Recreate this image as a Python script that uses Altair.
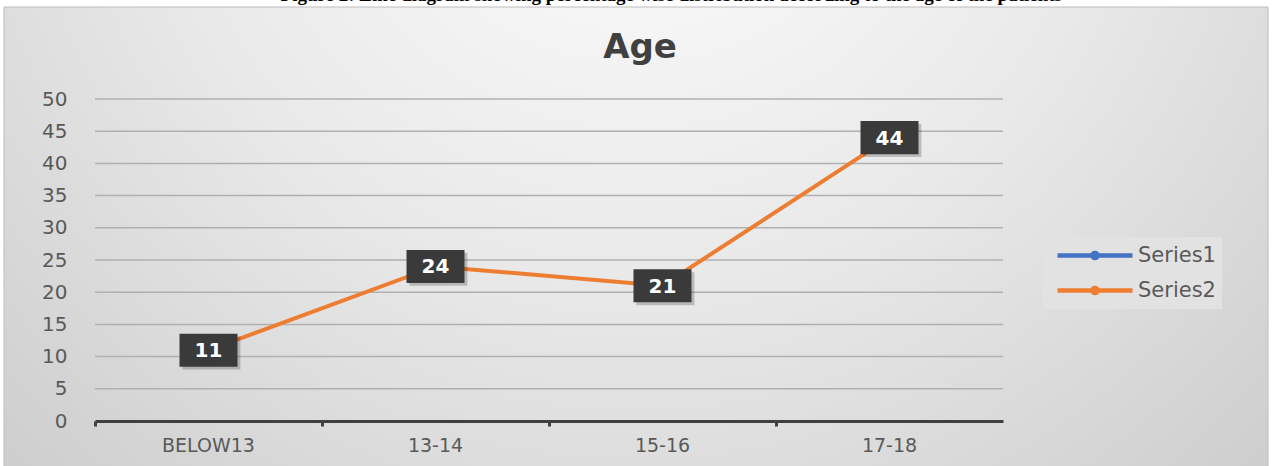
import altair as alt
import pandas as pd

categories = ["BELOW13", "13-14", "15-16", "17-18"]
series2_values = [11, 24, 21, 44]
series_names = ["Series1", "Series2"]
series_colors = ["#4472C4", "#ED7D31"]
y_ticks = [0, 5, 10, 15, 20, 25, 30, 35, 40, 45, 50]
title_text = "Age"
caption_text = "Figure 2: Line diagram showing percentage wise distribution according to the age of the patients"

df = pd.DataFrame({"cat": categories, "value": series2_values, "series": ["Series2"] * len(categories)})
grid_df = pd.DataFrame({"value": y_ticks[1:]})
one = pd.DataFrame({"a": [0]})

W, H = 908, 322
LEFT, TOP = 95, 99

x_axis = alt.Axis(title=None, labelAngle=0, labelFont="DejaVu Sans", labelFontSize=19,
                  labelColor="#595959", domainColor="#404040", domainWidth=3,
                  tickColor="#404040", tickWidth=3, tickSize=5, bandPosition=0,
                  labelPadding=10, grid=False, zindex=1)
x_scale = alt.Scale(type="band", domain=categories, paddingInner=0, paddingOuter=0)
y_axis = alt.Axis(title=None, values=y_ticks, labelFont="DejaVu Sans", labelFontSize=20,
                  labelColor="#595959", labelPadding=28, domain=False, ticks=False,
                  labelOverlap=False, labelBound=False, grid=False, zindex=1)
y_scale = alt.Scale(domain=[0, 50], nice=False, zero=True)

x_enc = alt.X("cat:N", sort=categories, scale=x_scale, axis=x_axis)
y_enc = alt.Y("value:Q", scale=y_scale, axis=y_axis)

bg = alt.Chart(one).mark_rect(
    fill=alt.Gradient(gradient="radial", x1=0.5, y1=0.15, r1=0.0, x2=0.5, y2=0.15, r2=0.85,
                      stops=[alt.GradientStop(offset=0, color="#ffffff"),
                             alt.GradientStop(offset=0.45, color="#e9e9e9"),
                             alt.GradientStop(offset=1, color="#c4c4c4")]),
    stroke="#bdbdbd", strokeWidth=1
).encode(x=alt.value(4 - LEFT), x2=alt.value(1268 - LEFT),
         y=alt.value(7 - TOP), y2=alt.value(470 - TOP))

grid = alt.Chart(grid_df).mark_rule(color="#b0b0b0", strokeWidth=1.5).encode(
    y=y_enc, x=alt.value(0), x2=alt.value(W))

# symbol drawn at scale r = 10 px (size 400): line 75 px long, dot in the middle
legend_path = ("M-1,0 L6.5,0 M2.49,0 A0.26,0.26 0 1,1 3.01,0 "
               "A0.26,0.26 0 1,1 2.49,0")
line = alt.Chart(df).mark_line(strokeWidth=4).encode(
    x=x_enc, y=y_enc,
    color=alt.Color("series:N",
                    scale=alt.Scale(domain=series_names, range=series_colors),
                    legend=alt.Legend(title=None, orient="none", legendX=948, legendY=138,
                                      symbolType=legend_path, symbolSize=400,
                                      symbolStrokeWidth=4.5, symbolOffset=6,
                                      labelFont="DejaVu Sans",
                                      labelFontSize=21, labelColor="#595959",
                                      fillColor="#e2e2e2", padding=6, rowPadding=10,
                                      labelOffset=58)))

shadow_path = "M-0.9,-0.47 L1.1,-0.47 L1.1,0.67 L-0.9,0.67 Z"
box_path = "M-1,-0.57 L1,-0.57 L1,0.57 L-1,0.57 Z"
shadow = alt.Chart(df).mark_point(shape=shadow_path, size=58 ** 2, filled=True,
                                  color="#000000", opacity=0.2, strokeWidth=0).encode(
    x=x_enc, y=y_enc)
boxes = alt.Chart(df).mark_point(shape=box_path, size=58 ** 2, filled=True,
                                 color="#3a3a3a", opacity=1, strokeWidth=0).encode(
    x=x_enc, y=y_enc)
labels = alt.Chart(df).mark_text(font="DejaVu Sans", fontWeight="bold", fontSize=20,
                                 color="#ffffff", baseline="middle", align="center", dy=1).encode(
    x=x_enc, y=y_enc, text=alt.Text("value:Q"))

title = alt.Chart(one).mark_text(text=title_text, font="DejaVu Sans", fontWeight="bold",
                                 fontSize=34, color="#404040", align="center",
                                 baseline="middle").encode(
    x=alt.value(640 - LEFT), y=alt.value(48 - TOP))

caption = alt.Chart(one).mark_text(text=caption_text, font="Liberation Serif", fontWeight="bold",
                                   fontSize=19, color="#000000", align="right",
                                   baseline="alphabetic").encode(
    x=alt.value(1062 - LEFT), y=alt.value(1 - TOP))

chart = alt.layer(bg, grid, line, shadow, boxes, labels, title, caption).properties(
    width=W, height=H,
    autosize=alt.AutoSizeParams(type="none"),
    padding={"left": LEFT, "top": TOP, "right": 1272 - LEFT - W, "bottom": 466 - TOP - H},
    background="white"
).configure_view(stroke=None)

chart.save("out.html", embed_options={"renderer": "svg", "actions": False})
